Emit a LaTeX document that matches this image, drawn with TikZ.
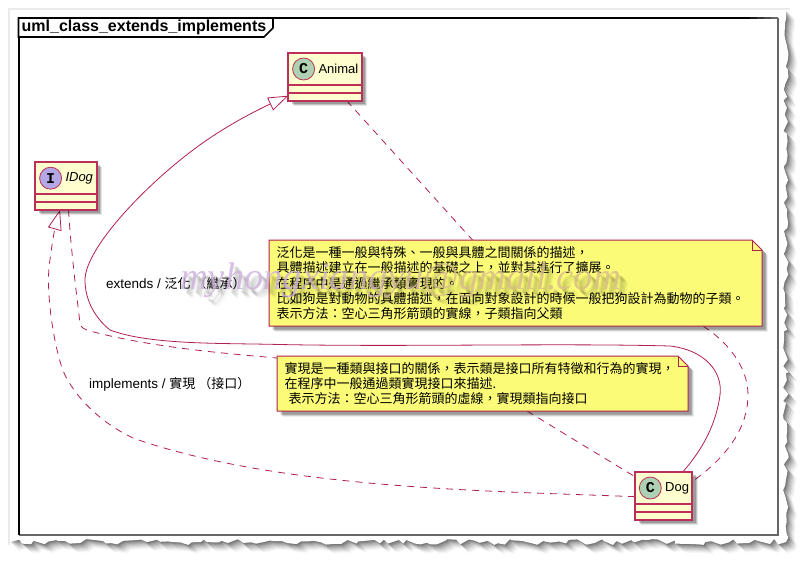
\documentclass[tikz,border=0pt]{standalone}
\usepackage{fontspec}
\setmainfont{Liberation Sans}
\setmonofont{Liberation Mono}
\newfontfamily\cjk{Noto Sans CJK TC}
\newfontfamily\wmserif{Liberation Serif}
\usetikzlibrary{arrows.meta,shadows,decorations.pathmorphing,calc}
\definecolor{plum}{HTML}{B02050}
\definecolor{boxline}{HTML}{BC2F58}
\definecolor{classfill}{HTML}{FEFECE}
\definecolor{notefill}{HTML}{FBFB77}
\definecolor{spotc}{HTML}{ADD1B2}
\definecolor{spoti}{HTML}{B4A7E5}
\definecolor{wmpurple}{HTML}{CDB0DC}
\definecolor{wmtan}{HTML}{D8BC8C}
\pgfdeclarelayer{edges}
\pgfdeclarelayer{noteback}
\pgfsetlayers{edges,noteback,main}
\tikzset{
  softshadow/.style={
    general shadow={fill=black,opacity=.10,shadow xshift=5.5pt,shadow yshift=-5.5pt},
    general shadow={fill=black,opacity=.15,shadow xshift=4.5pt,shadow yshift=-4.5pt},
    general shadow={fill=black,opacity=.2,shadow xshift=3.5pt,shadow yshift=-3.5pt}},
  classbox/.style={draw=boxline,line width=1.7pt,fill=classfill,minimum height=48pt,inner sep=0pt,outer sep=0pt,softshadow},
  spotnode/.style={circle,draw=boxline,line width=.8pt,minimum size=22pt,inner sep=0pt,font=\ttfamily\bfseries\fontsize{15}{15}\selectfont},
  classname/.style={anchor=west,inner sep=0pt,font=\fontsize{13}{15}\selectfont},
  classsep/.style={draw=boxline,line width=1.7pt},
  notetext/.style={align=left,inner xsep=7.5pt,inner ysep=0pt,outer sep=0pt,anchor=center,font=\cjk\fontsize{13}{15.2}\selectfont},
  noteshape/.style={draw=plum,line width=1pt,fill=notefill,softshadow},
  notefold/.style={draw=plum,line width=1pt},
  rel/.style={draw=plum,line width=.8pt},
  reldash/.style={rel,dash pattern=on 7pt off 6pt},
  edgelabel/.style={anchor=west,inner sep=0pt,font=\fontsize{13.5}{15}\selectfont},
  hollow/.style={-{Triangle[open,fill=white,length=20pt,width=14pt]}},
}
\newcommand{\umlbox}[6]{%
  \node[classbox,minimum width=#3pt] (#1) at (#2) {};
  \node[spotnode,fill=#5] (#1spot) at ($(#1.north west)+(15.3,16.3)$) {#4};
  \path[classsep] ($(#1.north west)+(0,32)$) -- ($(#1.north east)+(0,32)$);
  \path[classsep] ($(#1.north west)+(0,40)$) -- ($(#1.north east)+(0,40)$);
  \node[classname] (#1name) at ($(#1.north west)+(30,16.3)$) {#6};
}
\newcommand{\wmtext}{%
  \textcolor{wmpurple}{myhong}\textcolor{wmpurple!75!wmtan}{xia}\textcolor{wmpurple!50!wmtan}{ng}\textcolor{wmpurple!25!wmtan}{yu}\textcolor{wmtan}{@gmail.com}}
\newcommand{\wmshadow}{myhongxiangyu@gmail.com}
\newcommand{\tornedge}{(10,10) -- (786,10) decorate[decoration={random steps,segment length=6pt,amplitude=3pt}]{-- (786,542) -- (10,542)} -- cycle}
\begin{document}
\begin{tikzpicture}[x=1pt,y=-1pt]
\useasboundingbox (0,0) rectangle (805,563);
\begin{pgfonlayer}{edges}
  \fill[white] (0,0) rectangle (805,563);
  % torn paper and its shadow
  \foreach \o/\a in {9/.03,8/.04,7/.05,6/.06,5/.07,4/.08,3/.1,2/.12,1/.14}{
    \pgfmathsetseed{11}
    \fill[black,opacity=\a,shift={(\o,\o)}] \tornedge;
  }
  \pgfmathsetseed{11}
  \fill[white] \tornedge;
  \draw[black!8,line width=1.4pt] (9,545) -- (9,9) -- (790,9);
  % frame
  \draw[black!60,line width=2pt] (778,18) -- (778,535) -- (18.5,535);
  \draw[black,line width=2pt] (18.5,535) -- (18.5,18) -- (750,18);
  \foreach \s/\e/\c in {750/757/90,757/764/80,764/771/70,771/778/60}{
    \draw[black!\c,line width=2pt] (\s,18) -- (\e,18);
  }
\end{pgfonlayer}
\draw[black,line width=1.6pt,fill=white] (18.5,18) -- (273,18) -- (273,28) -- (264,37) -- (18.5,37) -- cycle;
\node[anchor=west,inner sep=0pt,font=\bfseries\fontsize{16}{17}\selectfont] (frametitle) at (21.5,27) {uml\_class\_extends\_implements};

% classes
\umlbox{animal}{325,76.7}{73.4}{C}{spotc}{Animal}
\umlbox{idog}{66,185.9}{61.4}{I}{spoti}{\textit{IDog}}
\umlbox{dog}{663.5,495.7}{57}{C}{spotc}{Dog}

% notes
\node[notetext,text width=478pt,minimum height=86pt] (noteone) at (515.5,283) {%
泛化是一種一般與特殊、一般與具體之間關係的描述，\\
具體描述建立在一般描述的基礎之上，並對其進行了擴展。\\
在程序中是通過繼承類實現的。\\
比如狗是對動物的具體描述，在面向對象設計的時候一般把狗設計為動物的子類。\\
表示方法：空心三角形箭頭的實線，子類指向父類};
\node[notetext,text width=396pt,minimum height=55pt] (notetwo) at (482.5,383.5) {%
實現是一種類與接口的關係，表示類是接口所有特徵和行為的實現，\\
在程序中一般通過類實現接口來描述.\\
\hspace*{4pt}表示方法：空心三角形箭頭的虛線，實現類指向接口};

\begin{pgfonlayer}{noteback}
  \path[noteshape] (noteone.north west) -- ([xshift=-10pt]noteone.north east) -- ([yshift=-10pt]noteone.north east) -- (noteone.south east) -- (noteone.south west) -- cycle;
  \path[notefold] ([xshift=-10pt]noteone.north east) -- ([xshift=-10pt,yshift=-10pt]noteone.north east) -- ([yshift=-10pt]noteone.north east);
  \path[noteshape] (notetwo.north west) -- ([xshift=-10pt]notetwo.north east) -- ([yshift=-10pt]notetwo.north east) -- (notetwo.south east) -- (notetwo.south west) -- cycle;
  \path[notefold] ([xshift=-10pt]notetwo.north east) -- ([xshift=-10pt,yshift=-10pt]notetwo.north east) -- ([yshift=-10pt]notetwo.north east);
\end{pgfonlayer}

% connectors
\begin{pgfonlayer}{edges}
  \path[rel,hollow] ([xshift=19.5pt]dog.north)
    .. controls (702,450) and (716,425) .. (720,395)
    .. controls (723,372) and (705,350) .. (670,346)
    .. controls (560,343) and (400,347) .. (280,344.5)
    .. controls (220,343) and (150,345) .. (110,330)
    .. controls (95,318) and (85,300) .. (85,280)
    .. controls (85,250) and (140,190) .. (193,150)
    .. controls (222,128) and (255,111) .. ([yshift=5pt]animal.south west);
  \path[reldash] ([xshift=-15pt]animal.south east) -- ([xshift=-43pt]noteone.north);
  \path[reldash] ([xshift=-59pt]noteone.south east)
    .. controls (725,340) and (748,365) .. (748,395)
    .. controls (748,425) and (730,455) .. ([yshift=-10pt]dog.north east);
  \path[reldash] ([xshift=2.5pt]idog.south)
    .. controls (71,250) and (76,290) .. (80,323)
    .. controls (81,328) and (84,329) .. (90,331)
    .. controls (150,347) and (220,353) .. ([yshift=-2pt]notetwo.north west);
  \path[reldash] ([xshift=44.5pt]notetwo.south) -- ([yshift=-5pt]dog.north west);
  \path[reldash,hollow] ([yshift=-1pt]dog.west)
    .. controls (500,491) and (280,490) .. (133,438)
    .. controls (95,420) and (70,390) .. (62,368)
    .. controls (50,330) and (46,280) .. (50,260)
    .. controls (52,243) and (55,228) .. ([xshift=-6pt]idog.south);
\end{pgfonlayer}

% edge labels
\node[edgelabel] (extendslabel) at (106,284) {extends / {\cjk\fontsize{13}{15}\selectfont 泛化 （繼承）}};
\node[edgelabel] (implementslabel) at (89,384) {implements / {\cjk\fontsize{13}{15}\selectfont 實現 （接口）}};

% watermark
\foreach \o/\a in {9/.03,8/.04,7/.05,6/.06,5/.07,4/.07}{
  \node[anchor=base west,inner sep=0pt,text=black,text opacity=\a,font=\wmserif\itshape\fontsize{38.5}{40}\selectfont] at (180+\o,289+\o) {\wmshadow};
}
\node[anchor=base west,inner sep=0pt,text opacity=.8,font=\wmserif\itshape\fontsize{38.5}{40}\selectfont] (watermark) at (180,289) {\wmtext};
\end{tikzpicture}
\end{document}
